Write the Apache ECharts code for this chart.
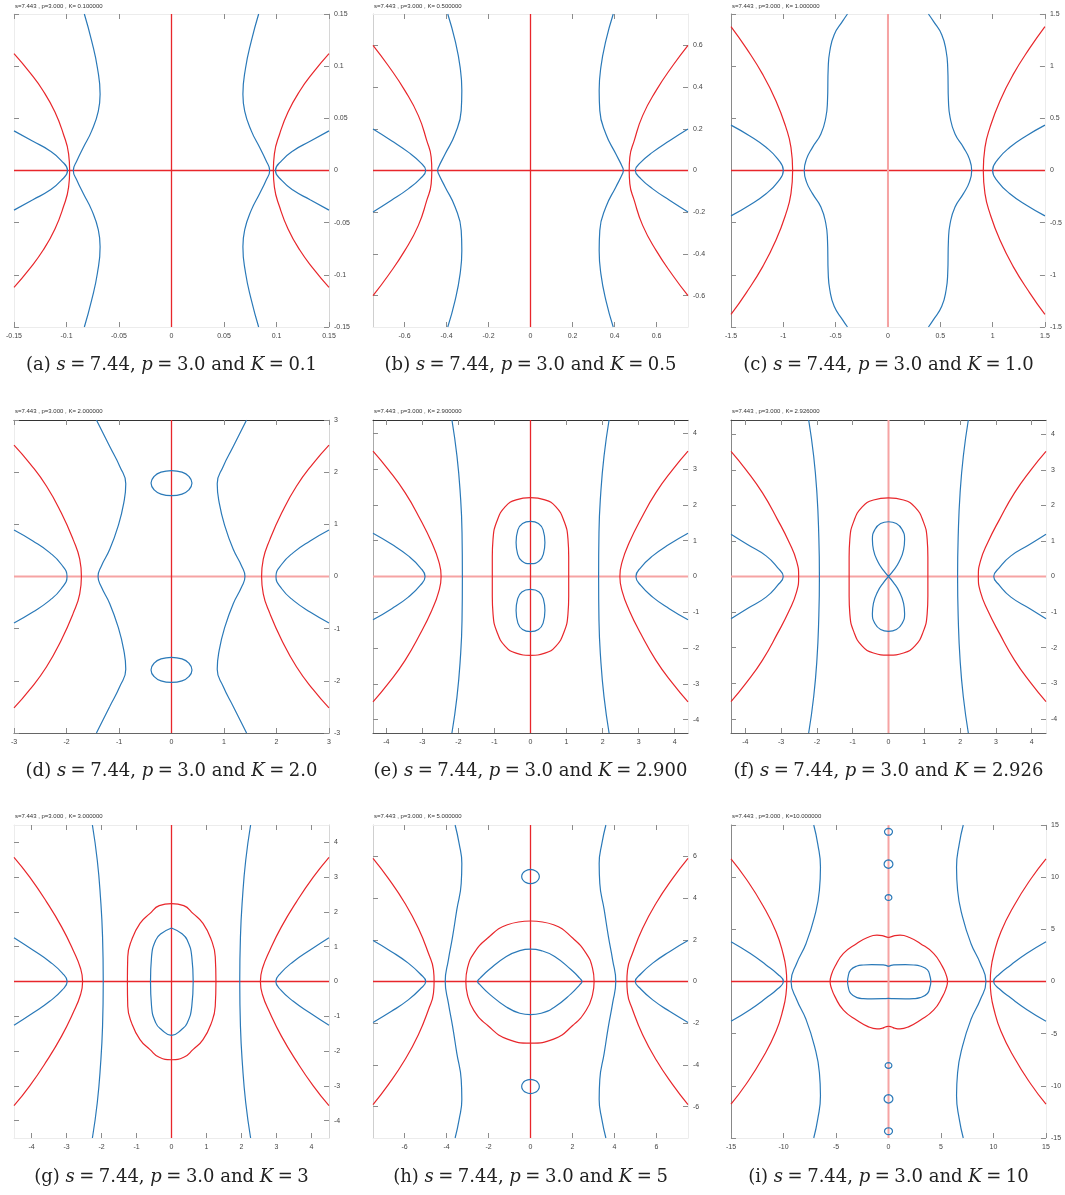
<!DOCTYPE html>
<html>
<head>
<meta charset="utf-8">
<title>Root locus contours, s=7.44, p=3.0</title>
<script src="https://cdn.jsdelivr.net/npm/echarts@6/dist/echarts.min.js"></script>
<style>
  html, body { margin: 0; padding: 0; background: #fff; }
  #chart { width: 1065px; height: 1195px; }
</style>
</head>
<body>
<div id="chart"></div>
<script>
// ---------- (a) K = 0.1 ----------
const aRange = 0.15;
const aTicks = [-0.15, -0.1, -0.05, 0, 0.05, 0.1, 0.15];
const aAxisLines = [[[-0.15, 0], [0.15, 0]], [[0, -0.15], [0, 0.15]]];
const aRed = [
  [[-0.150,0.112],[-0.135,0.094],[-0.122,0.076],[-0.111,0.056],[-0.103,0.035],[-0.098,0.016],[-0.097,0],[-0.098,-0.016],[-0.103,-0.035],[-0.111,-0.056],[-0.122,-0.076],[-0.135,-0.094],[-0.150,-0.112]],
  [[0.150,0.112],[0.135,0.094],[0.122,0.076],[0.111,0.056],[0.103,0.035],[0.098,0.016],[0.097,0],[0.098,-0.016],[0.103,-0.035],[0.111,-0.056],[0.122,-0.076],[0.135,-0.094],[0.150,-0.112]]
];
const aBlue = [
  [[-0.150,0.038],[-0.132,0.028],[-0.116,0.019],[-0.105,0.0095],[-0.099,0],[-0.105,-0.0095],[-0.116,-0.019],[-0.132,-0.028],[-0.150,-0.038]],
  [[0.150,0.038],[0.132,0.028],[0.116,0.019],[0.105,0.0095],[0.099,0],[0.105,-0.0095],[0.116,-0.019],[0.132,-0.028],[0.150,-0.038]],
  [[-0.083,0.150],[-0.076,0.124],[-0.0705,0.098],[-0.068,0.073],[-0.0697,0.057],[-0.076,0.038],[-0.084,0.022],[-0.090,0.0095],[-0.0935,0],[-0.090,-0.0095],[-0.084,-0.022],[-0.076,-0.038],[-0.0697,-0.057],[-0.068,-0.073],[-0.0705,-0.098],[-0.076,-0.124],[-0.083,-0.150]],
  [[0.083,0.150],[0.076,0.124],[0.0705,0.098],[0.068,0.073],[0.0697,0.057],[0.076,0.038],[0.084,0.022],[0.090,0.0095],[0.0935,0],[0.090,-0.0095],[0.084,-0.022],[0.076,-0.038],[0.0697,-0.057],[0.068,-0.073],[0.0705,-0.098],[0.076,-0.124],[0.083,-0.150]]
];

// ---------- (b) K = 0.5 ----------
const bRange = 0.75;
const bTicks = [-0.6, -0.4, -0.2, 0, 0.2, 0.4, 0.6];
const bAxisLines = [[[-0.75, 0], [0.75, 0]], [[0, -0.75], [0, 0.75]]];
const bRed = [
  [[-0.75,0.60],[-0.677,0.502],[-0.598,0.383],[-0.534,0.263],[-0.494,0.143],[-0.473,0.064],[-0.470,0],[-0.473,-0.064],[-0.494,-0.143],[-0.534,-0.263],[-0.598,-0.383],[-0.677,-0.502],[-0.75,-0.60]],
  [[0.75,0.60],[0.677,0.502],[0.598,0.383],[0.534,0.263],[0.494,0.143],[0.473,0.064],[0.470,0],[0.473,-0.064],[0.494,-0.143],[0.534,-0.263],[0.598,-0.383],[0.677,-0.502],[0.75,-0.60]]
];
const bBlue = [
  [[-0.75,0.199],[-0.662,0.143],[-0.582,0.088],[-0.526,0.040],[-0.499,0],[-0.526,-0.040],[-0.582,-0.088],[-0.662,-0.143],[-0.75,-0.199]],
  [[0.75,0.199],[0.662,0.143],[0.582,0.088],[0.526,0.040],[0.499,0],[0.526,-0.040],[0.582,-0.088],[0.662,-0.143],[0.75,-0.199]],
  [[-0.394,0.75],[-0.359,0.622],[-0.335,0.494],[-0.327,0.383],[-0.330,0.287],[-0.359,0.175],[-0.406,0.080],[-0.438,0.016],[-0.442,0],[-0.438,-0.016],[-0.406,-0.080],[-0.359,-0.175],[-0.330,-0.287],[-0.327,-0.383],[-0.335,-0.494],[-0.359,-0.622],[-0.394,-0.75]],
  [[0.394,0.75],[0.359,0.622],[0.335,0.494],[0.327,0.383],[0.330,0.287],[0.359,0.175],[0.406,0.080],[0.438,0.016],[0.442,0],[0.438,-0.016],[0.406,-0.080],[0.359,-0.175],[0.330,-0.287],[0.327,-0.383],[0.335,-0.494],[0.359,-0.622],[0.394,-0.75]]
];

// ---------- (c) K = 1.0 ----------
const cRange = 1.5;
const cTicks = [-1.5, -1, -0.5, 0, 0.5, 1, 1.5];
const cAxisLines = [[[-1.5, 0], [1.5, 0]], [[0, -1.5], [0, 1.5]]];
const cRed = [
  [[-1.5,1.38],[-1.356,1.175],[-1.197,0.921],[-1.07,0.667],[-0.975,0.413],[-0.927,0.222],[-0.911,0],[-0.927,-0.222],[-0.975,-0.413],[-1.07,-0.667],[-1.197,-0.921],[-1.356,-1.175],[-1.5,-1.38]],
  [[1.5,1.38],[1.356,1.175],[1.197,0.921],[1.07,0.667],[0.975,0.413],[0.927,0.222],[0.911,0],[0.927,-0.222],[0.975,-0.413],[1.07,-0.667],[1.197,-0.921],[1.356,-1.175],[1.5,-1.38]]
];
const cBlue = [
  [[-1.5,0.435],[-1.324,0.333],[-1.165,0.222],[-1.054,0.111],[-1.0,0],[-1.054,-0.111],[-1.165,-0.222],[-1.324,-0.333],[-1.5,-0.435]],
  [[1.5,0.435],[1.324,0.333],[1.165,0.222],[1.054,0.111],[1.0,0],[1.054,-0.111],[1.165,-0.222],[1.324,-0.333],[1.5,-0.435]],
  [[-0.387,1.5],[-0.435,1.429],[-0.514,1.302],[-0.556,1.143],[-0.571,0.984],[-0.578,0.667],[-0.594,0.508],[-0.641,0.349],[-0.721,0.222],[-0.778,0.111],[-0.8,0],[-0.778,-0.111],[-0.721,-0.222],[-0.641,-0.349],[-0.594,-0.508],[-0.578,-0.667],[-0.571,-0.984],[-0.556,-1.143],[-0.514,-1.302],[-0.435,-1.429],[-0.387,-1.5]],
  [[0.387,1.5],[0.435,1.429],[0.514,1.302],[0.556,1.143],[0.571,0.984],[0.578,0.667],[0.594,0.508],[0.641,0.349],[0.721,0.222],[0.778,0.111],[0.8,0],[0.778,-0.111],[0.721,-0.222],[0.641,-0.349],[0.594,-0.508],[0.578,-0.667],[0.571,-0.984],[0.556,-1.143],[0.514,-1.302],[0.435,-1.429],[0.387,-1.5]]
];

// ---------- (d) K = 2.0 ----------
const dRange = 3;
const dTicks = [-3, -2, -1, 0, 1, 2, 3];
const dAxisLines = [[[-3, 0], [3, 0]], [[0, -3], [0, 3]]];
const dRed = [
  [[-3,2.52],[-2.70,2.17],[-2.38,1.73],[-2.10,1.22],[-1.875,0.712],[-1.748,0.331],[-1.716,0],[-1.748,-0.331],[-1.875,-0.712],[-2.10,-1.22],[-2.38,-1.73],[-2.70,-2.17],[-3,-2.52]],
  [[3,2.52],[2.70,2.17],[2.38,1.73],[2.10,1.22],[1.875,0.712],[1.748,0.331],[1.716,0],[1.748,-0.331],[1.875,-0.712],[2.10,-1.22],[2.38,-1.73],[2.70,-2.17],[3,-2.52]]
];
const dBlue = [
  [[-3,0.89],[-2.64,0.68],[-2.32,0.458],[-2.10,0.235],[-1.99,0],[-2.10,-0.235],[-2.32,-0.458],[-2.64,-0.68],[-3,-0.89]],
  [[3,0.89],[2.64,0.68],[2.32,0.458],[2.10,0.235],[1.99,0],[2.10,-0.235],[2.32,-0.458],[2.64,-0.68],[3,-0.89]],
  [[-1.43,3],[-1.176,2.49],[-0.985,2.11],[-0.871,1.78],[-0.909,1.41],[-1.017,0.966],[-1.176,0.521],[-1.335,0.203],[-1.399,0],[-1.335,-0.203],[-1.176,-0.521],[-1.017,-0.966],[-0.909,-1.41],[-0.871,-1.78],[-0.985,-2.11],[-1.176,-2.49],[-1.43,-3]],
  [[1.43,3],[1.176,2.49],[0.985,2.11],[0.871,1.78],[0.909,1.41],[1.017,0.966],[1.176,0.521],[1.335,0.203],[1.399,0],[1.335,-0.203],[1.176,-0.521],[1.017,-0.966],[0.909,-1.41],[0.871,-1.78],[0.985,-2.11],[1.176,-2.49],[1.43,-3]],
  [[0,2.03],[0.2,2.0],[0.33,1.92],[0.39,1.79],[0.33,1.66],[0.2,1.58],[0,1.55],[-0.2,1.58],[-0.33,1.66],[-0.39,1.79],[-0.33,1.92],[-0.2,2.0],[0,2.03]],
  [[0,-1.55],[0.2,-1.58],[0.33,-1.66],[0.39,-1.79],[0.33,-1.92],[0.2,-2.0],[0,-2.03],[-0.2,-2.0],[-0.33,-1.92],[-0.39,-1.79],[-0.33,-1.66],[-0.2,-1.58],[0,-1.55]]
];

// ---------- (e) K = 2.900 ----------
const eRange = 4.37;
const eTicks = [-4, -3, -2, -1, 0, 1, 2, 3, 4];
const eAxisLines = [[[-4.37, 0], [4.37, 0]], [[0, -4.37], [0, 4.37]]];
const eRed = [
  [[-4.37,3.50],[-3.95,2.99],[-3.48,2.34],[-3.06,1.60],[-2.74,0.947],[-2.55,0.436],[-2.48,0],[-2.55,-0.436],[-2.74,-0.947],[-3.06,-1.60],[-3.48,-2.34],[-3.95,-2.99],[-4.37,-3.50]],
  [[4.37,3.50],[3.95,2.99],[3.48,2.34],[3.06,1.60],[2.74,0.947],[2.55,0.436],[2.48,0],[2.55,-0.436],[2.74,-0.947],[3.06,-1.60],[3.48,-2.34],[3.95,-2.99],[4.37,-3.50]],
  [[0,2.20],[0.40,2.14],[0.70,1.95],[0.93,1.55],[1.04,1.04],[1.06,0.55],[1.06,0],[1.06,-0.55],[1.04,-1.04],[0.93,-1.55],[0.70,-1.95],[0.40,-2.14],[0,-2.20],[-0.40,-2.14],[-0.70,-1.95],[-0.93,-1.55],[-1.04,-1.04],[-1.06,-0.55],[-1.06,0],[-1.06,0.55],[-1.04,1.04],[-0.93,1.55],[-0.70,1.95],[-0.40,2.14],[0,2.20]]
];
const eBlue = [
  [[-4.37,1.21],[-3.85,0.90],[-3.39,0.576],[-3.06,0.251],[-2.925,0],[-3.06,-0.251],[-3.39,-0.576],[-3.85,-0.90],[-4.37,-1.21]],
  [[4.37,1.21],[3.85,0.90],[3.39,0.576],[3.06,0.251],[2.925,0],[3.06,-0.251],[3.39,-0.576],[3.85,-0.90],[4.37,-1.21]],
  [[-2.18,4.37],[-2.04,3.36],[-1.95,2.34],[-1.90,1.23],[-1.89,0],[-1.90,-1.23],[-1.95,-2.34],[-2.04,-3.36],[-2.18,-4.37]],
  [[2.18,4.37],[2.04,3.36],[1.95,2.34],[1.90,1.23],[1.89,0],[1.90,-1.23],[1.95,-2.34],[2.04,-3.36],[2.18,-4.37]],
  [[0,1.54],[0.22,1.48],[0.35,1.30],[0.40,0.95],[0.36,0.64],[0.24,0.43],[0,0.36],[-0.24,0.43],[-0.36,0.64],[-0.40,0.95],[-0.35,1.30],[-0.22,1.48],[0,1.54]],
  [[0,-0.36],[0.24,-0.43],[0.36,-0.64],[0.40,-0.95],[0.35,-1.30],[0.22,-1.48],[0,-1.54],[-0.22,-1.48],[-0.35,-1.30],[-0.40,-0.95],[-0.36,-0.64],[-0.24,-0.43],[0,-0.36]]
];

// ---------- (f) K = 2.926 ----------
const fRange = 4.4;
const fTicks = [-4, -3, -2, -1, 0, 1, 2, 3, 4];
const fAxisLines = [[[-4.4, 0], [4.4, 0]], [[0, -4.4], [0, 4.4]]];
const fRed = [
  [[-4.4,3.52],[-3.98,3.00],[-3.52,2.35],[-3.10,1.60],[-2.77,0.95],[-2.57,0.44],[-2.51,0],[-2.57,-0.44],[-2.77,-0.95],[-3.10,-1.60],[-3.52,-2.35],[-3.98,-3.00],[-4.4,-3.52]],
  [[4.4,3.52],[3.98,3.00],[3.52,2.35],[3.10,1.60],[2.77,0.95],[2.57,0.44],[2.51,0],[2.57,-0.44],[2.77,-0.95],[3.10,-1.60],[3.52,-2.35],[3.98,-3.00],[4.4,-3.52]],
  [[0,2.21],[0.42,2.15],[0.74,1.95],[0.97,1.55],[1.08,1.05],[1.10,0.55],[1.10,0],[1.10,-0.55],[1.08,-1.05],[0.97,-1.55],[0.74,-1.95],[0.42,-2.15],[0,-2.21],[-0.42,-2.15],[-0.74,-1.95],[-0.97,-1.55],[-1.08,-1.05],[-1.10,-0.55],[-1.10,0],[-1.10,0.55],[-1.08,1.05],[-0.97,1.55],[-0.74,1.95],[-0.42,2.15],[0,2.21]]
];
const fBlue = [
  [[-4.4,1.19],[-3.94,0.90],[-3.42,0.58],[-3.10,0.25],[-2.94,0],[-3.10,-0.25],[-3.42,-0.58],[-3.94,-0.90],[-4.4,-1.19]],
  [[4.4,1.19],[3.94,0.90],[3.42,0.58],[3.10,0.25],[2.94,0],[3.10,-0.25],[3.42,-0.58],[3.94,-0.90],[4.4,-1.19]],
  [[-2.23,4.4],[-2.09,3.38],[-2.00,2.35],[-1.95,1.23],[-1.93,0],[-1.95,-1.23],[-2.00,-2.35],[-2.09,-3.38],[-2.23,-4.4]],
  [[2.23,4.4],[2.09,3.38],[2.00,2.35],[1.95,1.23],[1.93,0],[1.95,-1.23],[2.00,-2.35],[2.09,-3.38],[2.23,-4.4]],
  [[0,0],[0.14,0.17],[0.30,0.42],[0.42,0.75],[0.45,1.05],[0.38,1.32],[0.22,1.49],[0,1.54],[-0.22,1.49],[-0.38,1.32],[-0.45,1.05],[-0.42,0.75],[-0.30,0.42],[-0.14,0.17],[0,0]],
  [[0,0],[0.14,-0.17],[0.30,-0.42],[0.42,-0.75],[0.45,-1.05],[0.38,-1.32],[0.22,-1.49],[0,-1.54],[-0.22,-1.49],[-0.38,-1.32],[-0.45,-1.05],[-0.42,-0.75],[-0.30,-0.42],[-0.14,-0.17],[0,0]]
];

// ---------- (g) K = 3 ----------
const gRange = 4.5;
const gTicks = [-4, -3, -2, -1, 0, 1, 2, 3, 4];
const gAxisLines = [[[-4.5, 0], [4.5, 0]], [[0, -4.5], [0, 4.5]]];
const gRed = [
  [[-4.5,3.57],[-4.05,3.00],[-3.57,2.29],[-3.14,1.57],[-2.81,0.90],[-2.60,0.38],[-2.54,0],[-2.60,-0.38],[-2.81,-0.90],[-3.14,-1.57],[-3.57,-2.29],[-4.05,-3.00],[-4.5,-3.57]],
  [[4.5,3.57],[4.05,3.00],[3.57,2.29],[3.14,1.57],[2.81,0.90],[2.60,0.38],[2.54,0],[2.60,-0.38],[2.81,-0.90],[3.14,-1.57],[3.57,-2.29],[4.05,-3.00],[4.5,-3.57]],
  [[0,2.24],[0.35,2.18],[0.62,1.95],[0.90,1.67],[1.14,1.19],[1.25,0.71],[1.27,0],[1.25,-0.71],[1.14,-1.19],[0.90,-1.67],[0.62,-1.95],[0.35,-2.18],[0,-2.25],[-0.35,-2.18],[-0.62,-1.95],[-0.90,-1.67],[-1.14,-1.19],[-1.25,-0.71],[-1.26,0],[-1.25,0.71],[-1.14,1.19],[-0.90,1.67],[-0.62,1.95],[-0.35,2.18],[0,2.24]]
];
const gBlue = [
  [[-4.5,1.26],[-3.95,0.90],[-3.48,0.57],[-3.12,0.24],[-2.98,0],[-3.12,-0.24],[-3.48,-0.57],[-3.95,-0.90],[-4.5,-1.26]],
  [[4.5,1.26],[3.95,0.90],[3.48,0.57],[3.12,0.24],[2.98,0],[3.12,-0.24],[3.48,-0.57],[3.95,-0.90],[4.5,-1.26]],
  [[-2.26,4.5],[-2.12,3.48],[-2.03,2.43],[-1.97,1.29],[-1.95,0],[-1.97,-1.29],[-2.03,-2.43],[-2.12,-3.48],[-2.26,-4.5]],
  [[2.26,4.5],[2.12,3.48],[2.03,2.43],[1.97,1.29],[1.95,0],[1.97,-1.29],[2.03,-2.43],[2.12,-3.48],[2.26,-4.5]],
  [[0,1.54],[0.29,1.38],[0.45,1.19],[0.58,0.71],[0.62,0],[0.58,-0.71],[0.45,-1.19],[0.29,-1.38],[0,-1.55],[-0.29,-1.38],[-0.45,-1.19],[-0.57,-0.71],[-0.60,0],[-0.57,0.71],[-0.45,1.19],[-0.29,1.38],[0,1.54]]
];

// ---------- (h) K = 5 ----------
const hRange = 7.5;
const hTicks = [-6, -4, -2, 0, 2, 4, 6];
const hAxisLines = [[[-7.5, 0], [7.5, 0]], [[0, -7.5], [0, 7.5]]];
const hRed = [
  [[-7.5,5.90],[-6.77,4.94],[-5.98,3.75],[-5.34,2.55],[-4.86,1.35],[-4.62,0.56],[-4.59,0],[-4.62,-0.56],[-4.86,-1.35],[-5.34,-2.55],[-5.98,-3.75],[-6.77,-4.94],[-7.5,-5.90]],
  [[7.5,5.90],[6.77,4.94],[5.98,3.75],[5.34,2.55],[4.86,1.35],[4.62,0.56],[4.59,0],[4.62,-0.56],[4.86,-1.35],[5.34,-2.55],[5.98,-3.75],[6.77,-4.94],[7.5,-5.90]],
  [[0,2.90],[1.1,2.72],[2.02,2.07],[2.65,1.35],[2.95,0.65],[3.03,0],[2.95,-0.65],[2.65,-1.38],[2.02,-2.10],[1.1,-2.76],[0,-2.95],[-1.1,-2.76],[-2.05,-2.10],[-2.70,-1.38],[-3.0,-0.65],[-3.08,0],[-3.0,0.65],[-2.70,1.35],[-2.05,2.07],[-1.1,2.72],[0,2.90]]
];
const hBlue = [
  [[-7.5,1.96],[-6.62,1.43],[-5.82,0.88],[-5.26,0.37],[-4.99,0],[-5.26,-0.37],[-5.82,-0.88],[-6.62,-1.43],[-7.5,-1.96]],
  [[7.5,1.96],[6.62,1.43],[5.82,0.88],[5.26,0.37],[4.99,0],[5.26,-0.37],[5.82,-0.88],[6.62,-1.43],[7.5,-1.96]],
  [[-3.59,7.5],[-3.40,6.62],[-3.27,5.66],[-3.30,4.70],[-3.51,3.43],[-3.71,2.15],[-3.91,1.04],[-4.06,0],[-3.91,-1.04],[-3.71,-2.15],[-3.51,-3.43],[-3.30,-4.70],[-3.27,-5.66],[-3.40,-6.62],[-3.59,-7.5]],
  [[3.59,7.5],[3.40,6.62],[3.27,5.66],[3.30,4.70],[3.51,3.43],[3.71,2.15],[3.91,1.04],[4.06,0],[3.91,-1.04],[3.71,-2.15],[3.51,-3.43],[3.30,-4.70],[3.27,-5.66],[3.40,-6.62],[3.59,-7.5]],
  [[0,1.55],[0.51,1.48],[1.15,1.20],[1.94,0.56],[2.34,0.16],[2.45,0],[2.34,-0.16],[1.94,-0.58],[1.15,-1.22],[0.51,-1.52],[0,-1.59],[-0.51,-1.52],[-1.15,-1.22],[-1.98,-0.58],[-2.40,-0.16],[-2.52,0],[-2.40,0.16],[-1.98,0.56],[-1.15,1.20],[-0.51,1.48],[0,1.55]],
  [[0,5.37],[0.25,5.30],[0.38,5.17],[0.42,5.03],[0.38,4.89],[0.25,4.76],[0,4.69],[-0.25,4.76],[-0.38,4.89],[-0.42,5.03],[-0.38,5.17],[-0.25,5.30],[0,5.37]],
  [[0,-4.69],[0.25,-4.76],[0.38,-4.89],[0.42,-5.03],[0.38,-5.17],[0.25,-5.30],[0,-5.37],[-0.25,-5.30],[-0.38,-5.17],[-0.42,-5.03],[-0.38,-4.89],[-0.25,-4.76],[0,-4.69]]
];

// ---------- (i) K = 10 ----------
const iRange = 15;
const iTicks = [-15, -10, -5, 0, 5, 10, 15];
const iAxisLines = [[[-15, 0], [15, 0]], [[0, -15], [0, 15]]];
const iRed = [
  [[-15,11.76],[-13.57,9.85],[-11.98,7.31],[-10.71,4.77],[-10.01,2.54],[-9.76,1.2],[-9.69,0],[-9.76,-1.2],[-10.01,-2.54],[-10.71,-4.77],[-11.98,-7.31],[-13.57,-9.85],[-15,-11.76]],
  [[15,11.76],[13.57,9.85],[11.98,7.31],[10.71,4.77],[10.01,2.54],[9.76,1.2],[9.69,0],[9.76,-1.2],[10.01,-2.54],[10.71,-4.77],[11.98,-7.31],[13.57,-9.85],[15,-11.76]],
  [[0,4.22],[0.3,4.30],[0.6,4.40],[1.1,4.44],[2.0,4.22],[3.02,3.65],[4.29,2.70],[5.14,1.43],[5.5,0.6],[5.62,0],[5.5,-0.6],[5.14,-1.45],[4.29,-2.75],[3.02,-3.72],[2.0,-4.30],[1.1,-4.54],[0.6,-4.48],[0.3,-4.36],[0,-4.29],[-0.3,-4.36],[-0.6,-4.48],[-1.1,-4.54],[-2.0,-4.30],[-3.02,-3.72],[-4.29,-2.75],[-5.1,-1.45],[-5.45,-0.6],[-5.56,0],[-5.45,0.6],[-5.1,1.43],[-4.29,2.70],[-3.02,3.65],[-2.0,4.22],[-1.1,4.44],[-0.6,4.40],[-0.3,4.30],[0,4.22]]
];
const iBlue = [
  [[-15,3.81],[-13.19,2.70],[-11.66,1.59],[-10.55,0.70],[-10.01,0],[-10.55,-0.70],[-11.66,-1.59],[-13.19,-2.70],[-15,-3.81]],
  [[15,3.81],[13.19,2.70],[11.66,1.59],[10.55,0.70],[10.01,0],[10.55,-0.70],[11.66,-1.59],[13.19,-2.70],[15,-3.81]],
  [[-7.12,15],[-6.74,13.19],[-6.48,10.96],[-6.58,8.74],[-7.05,6.20],[-7.85,3.65],[-8.74,1.75],[-9.28,0],[-8.74,-1.75],[-7.85,-3.65],[-7.05,-6.20],[-6.58,-8.74],[-6.48,-10.96],[-6.74,-13.19],[-7.12,-15]],
  [[7.12,15],[6.74,13.19],[6.48,10.96],[6.58,8.74],[7.05,6.20],[7.85,3.65],[8.74,1.75],[9.28,0],[8.74,-1.75],[7.85,-3.65],[7.05,-6.20],[6.58,-8.74],[6.48,-10.96],[6.74,-13.19],[7.12,-15]],
  [[0,1.45],[0.5,1.59],[1.6,1.62],[2.4,1.58],[3.0,1.48],[3.71,1.11],[3.95,0.5],[4.03,0],[3.95,-0.5],[3.71,-1.15],[3.0,-1.55],[2.4,-1.64],[1.6,-1.66],[0.5,-1.65],[0,-1.62],[-0.5,-1.65],[-1.6,-1.66],[-2.4,-1.64],[-3.0,-1.55],[-3.6,-1.15],[-3.84,-0.5],[-3.90,0],[-3.84,0.5],[-3.6,1.11],[-3.0,1.48],[-2.4,1.58],[-1.6,1.62],[-0.5,1.59],[0,1.45]],
  [[0,14.68],[0.27,14.58],[0.38,14.35],[0.27,14.12],[0,14.02],[-0.27,14.12],[-0.38,14.35],[-0.27,14.58],[0,14.68]],
  [[0,11.65],[0.30,11.53],[0.42,11.25],[0.30,10.97],[0,10.85],[-0.30,10.97],[-0.42,11.25],[-0.30,11.53],[0,11.65]],
  [[0,8.33],[0.23,8.25],[0.32,8.05],[0.23,7.85],[0,7.77],[-0.23,7.85],[-0.32,8.05],[-0.23,8.25],[0,8.33]],
  [[0,-7.77],[0.23,-7.85],[0.32,-8.05],[0.23,-8.25],[0,-8.33],[-0.23,-8.25],[-0.32,-8.05],[-0.23,-7.85],[0,-7.77]],
  [[0,-10.85],[0.30,-10.97],[0.42,-11.25],[0.30,-11.53],[0,-11.65],[-0.30,-11.53],[-0.42,-11.25],[-0.30,-10.97],[0,-10.85]],
  [[0,-14.02],[0.27,-14.12],[0.38,-14.35],[0.27,-14.58],[0,-14.68],[-0.27,-14.58],[-0.38,-14.35],[-0.27,-14.12],[0,-14.02]]
];

// ---------- text ----------
const headers = [
  's=7.443 , p=3.000 , K= 0.100000',
  's=7.443 , p=3.000 , K= 0.500000',
  's=7.443 , p=3.000 , K= 1.000000',
  's=7.443 , p=3.000 , K= 2.000000',
  's=7.443 , p=3.000 , K= 2.900000',
  's=7.443 , p=3.000 , K= 2.926000',
  's=7.443 , p=3.000 , K= 3.000000',
  's=7.443 , p=3.000 , K= 5.000000',
  's=7.443 , p=3.000 , K=10.000000'
];
// math-mode spacing (U+2005) around the relation signs
const captions = [
  '{n|(a) }{i|s}{n|\u2005=\u20057.44, }{i|p}{n|\u2005=\u20053.0 and }{i|K}{n|\u2005=\u20050.1}',
  '{n|(b) }{i|s}{n|\u2005=\u20057.44, }{i|p}{n|\u2005=\u20053.0 and }{i|K}{n|\u2005=\u20050.5}',
  '{n|(c) }{i|s}{n|\u2005=\u20057.44, }{i|p}{n|\u2005=\u20053.0 and }{i|K}{n|\u2005=\u20051.0}',
  '{n|(d) }{i|s}{n|\u2005=\u20057.44, }{i|p}{n|\u2005=\u20053.0 and }{i|K}{n|\u2005=\u20052.0}',
  '{n|(e) }{i|s}{n|\u2005=\u20057.44, }{i|p}{n|\u2005=\u20053.0 and }{i|K}{n|\u2005=\u20052.900}',
  '{n|(f) }{i|s}{n|\u2005=\u20057.44, }{i|p}{n|\u2005=\u20053.0 and }{i|K}{n|\u2005=\u20052.926}',
  '{n|(g) }{i|s}{n|\u2005=\u20057.44, }{i|p}{n|\u2005=\u20053.0 and }{i|K}{n|\u2005=\u20053}',
  '{n|(h) }{i|s}{n|\u2005=\u20057.44, }{i|p}{n|\u2005=\u20053.0 and }{i|K}{n|\u2005=\u20055}',
  '{n|(i) }{i|s}{n|\u2005=\u20057.44, }{i|p}{n|\u2005=\u20053.0 and }{i|K}{n|\u2005=\u200510}'
];

// ---------- styling & layout ----------
const RED = '#e8262b';
const RED_PALE = '#f6a3a3';
const BLUE = '#2a79b8';
const COL_LEFT = [14, 373, 731];
const ROW_TOP = [14, 420, 825];
const PLOT_W = 315, PLOT_H = 313;
const CAPTION_Y = [365, 771, 1177];
const HEADER_Y = [6, 411, 816];
const FAINT = '#ececec';

// frame colours [top, right, bottom, left]; zero-line style [horizontal, vertical]
const panels = [
  { range: aRange, ticks: aTicks, axes: aAxisLines, red: aRed, blue: aBlue, frame: [FAINT, '#d6d6d6', FAINT, FAINT], zero: [1, 1] },
  { range: bRange, ticks: bTicks, axes: bAxisLines, red: bRed, blue: bBlue, frame: [FAINT, FAINT, FAINT, '#cfcfcf'], zero: [1, 1] },
  { range: cRange, ticks: cTicks, axes: cAxisLines, red: cRed, blue: cBlue, frame: [FAINT, FAINT, FAINT, '#8a8a8a'], zero: [1, 0] },
  { range: dRange, ticks: dTicks, axes: dAxisLines, red: dRed, blue: dBlue, frame: ['#333', '#d6d6d6', '#666', FAINT], zero: [0, 1] },
  { range: eRange, ticks: eTicks, axes: eAxisLines, red: eRed, blue: eBlue, frame: ['#333', FAINT, '#555', '#aaa'], zero: [0, 1] },
  { range: fRange, ticks: fTicks, axes: fAxisLines, red: fRed, blue: fBlue, frame: ['#444', FAINT, '#666', '#888'], zero: [0, 0] },
  { range: gRange, ticks: gTicks, axes: gAxisLines, red: gRed, blue: gBlue, frame: [FAINT, '#d6d6d6', FAINT, FAINT], zero: [1, 1] },
  { range: hRange, ticks: hTicks, axes: hAxisLines, red: hRed, blue: hBlue, frame: [FAINT, FAINT, FAINT, '#cfcfcf'], zero: [1, 1] },
  { range: iRange, ticks: iTicks, axes: iAxisLines, red: iRed, blue: iBlue, frame: [FAINT, FAINT, FAINT, '#888'], zero: [1, 0] }
];

const option = {
  animation: false,
  backgroundColor: '#fff',
  grid: [], xAxis: [], yAxis: [], series: [], graphic: []
};

const captionRich = {
  n: { fontFamily: 'DejaVu Serif', fontSize: 18, color: '#222' },
  i: { fontFamily: 'DejaVu Serif', fontSize: 18, fontStyle: 'italic', color: '#222' }
};

panels.forEach((p, pi) => {
  const col = pi % 3, row = Math.floor(pi / 3);
  const left = COL_LEFT[col], top = ROW_TOP[row];
  option.grid.push({ left: left, top: top, width: PLOT_W, height: PLOT_H, show: false });

  const tick = {
    show: true, inside: true, length: 5, customValues: p.ticks,
    lineStyle: { color: '#8c8c8c', width: 1 }
  };
  const label = {
    customValues: p.ticks, fontSize: 7, color: '#444',
    fontFamily: 'Liberation Sans'
  };
  const base = { gridIndex: pi, type: 'value', min: -p.range, max: p.range, splitLine: { show: false } };

  option.xAxis.push(Object.assign({}, base, {
    position: 'bottom',
    axisLine: { show: true, onZero: false, lineStyle: { color: p.frame[2], width: 1 } },
    axisTick: tick, axisLabel: Object.assign({ margin: 6 }, label)
  }));
  option.xAxis.push(Object.assign({}, base, {
    position: 'top',
    axisLine: { show: true, onZero: false, lineStyle: { color: p.frame[0], width: 1 } },
    axisTick: tick, axisLabel: { show: false }
  }));
  option.yAxis.push(Object.assign({}, base, {
    position: 'right',
    axisLine: { show: true, onZero: false, lineStyle: { color: p.frame[1], width: 1 } },
    axisTick: tick, axisLabel: Object.assign({ margin: 5 }, label)
  }));
  option.yAxis.push(Object.assign({}, base, {
    position: 'left',
    axisLine: { show: true, onZero: false, lineStyle: { color: p.frame[3], width: 1 } },
    axisTick: tick, axisLabel: { show: false }
  }));

  const xi = 2 * pi, yi = 2 * pi;
  const curve = (data, color, width, z) => ({
    type: 'line', xAxisIndex: xi, yAxisIndex: yi, data: data,
    showSymbol: false, symbol: 'none', smooth: 0.5, silent: true, z: z,
    lineStyle: { color: color, width: width }
  });

  // branches lying on the real and imaginary axes
  p.axes.forEach((seg, k) => {
    const solid = p.zero[k] === 1;
    option.series.push(curve(seg, solid ? RED : RED_PALE, solid ? 1.3 : 2, 1));
  });
  p.red.forEach(c => option.series.push(curve(c, RED, 1.2, 2)));
  p.blue.forEach(c => option.series.push(curve(c, BLUE, 1.2, 3)));

  option.graphic.push({
    type: 'text', x: left + 1, y: HEADER_Y[row], silent: true,
    style: { text: headers[pi], fontSize: 6, fontFamily: 'Liberation Sans', fill: '#333', verticalAlign: 'middle', align: 'left' }
  });
  option.graphic.push({
    type: 'text', x: left + PLOT_W / 2, y: CAPTION_Y[row], silent: true,
    style: { text: captions[pi], rich: captionRich, fontSize: 18, fontFamily: 'DejaVu Serif', fill: '#222', align: 'center', verticalAlign: 'middle' }
  });
});

const chart = echarts.init(document.getElementById('chart'), null, { renderer: 'canvas' });
chart.setOption(option);
</script>
</body>
</html>
